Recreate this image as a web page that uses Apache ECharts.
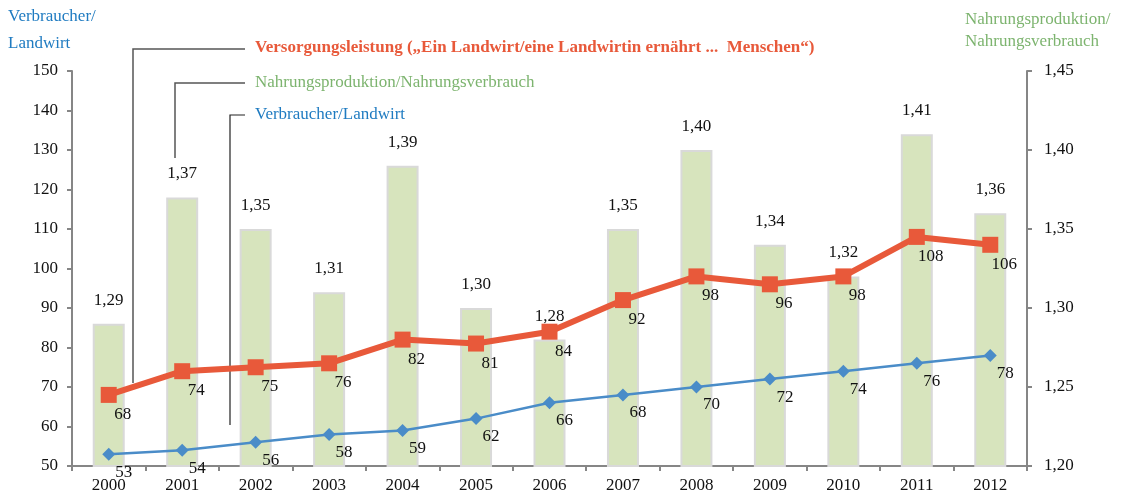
<!DOCTYPE html>
<html>
<head>
<meta charset="utf-8">
<script src="https://cdn.jsdelivr.net/npm/echarts@6/dist/echarts.min.js"></script>
<style>
  html, body { margin: 0; padding: 0; background: #fff; }
  #chart { width: 1122px; height: 494px; }
</style>
</head>
<body>
<div id="chart"></div>
<script>
'use strict';

// data
var years = ['2000','2001','2002','2003','2004','2005','2006','2007','2008','2009','2010','2011','2012'];
var ratio = [1.29, 1.37, 1.35, 1.31, 1.39, 1.30, 1.28, 1.35, 1.40, 1.34, 1.32, 1.41, 1.36];
var versorgung = [68, 74, 75, 76, 82, 81, 84, 92, 98, 96, 98, 108, 106];
var verbraucher = [53, 54, 56, 58, 59, 62, 66, 68, 70, 72, 74, 76, 78];

var FONT = '"Liberation Serif", "DejaVu Serif", serif';
var RED = '#e8593a', BLUE = '#4a8cc8', GREEN = '#7db46f', AXIS = '#868686';

var comma = function (v) { return v.toFixed(2).replace('.', ','); };

var myChart = echarts.init(document.getElementById('chart'));
var option = {
  animation: false,
  textStyle: { fontFamily: FONT },
  grid: { left: 72, right: 95, top: 71, bottom: 28 },
  xAxis: {
    type: 'category',
    data: years,
    axisLine: { lineStyle: { color: AXIS, width: 2 } },
    axisTick: { show: true, length: 5, lineStyle: { color: AXIS, width: 2 } },
    axisLabel: { color: '#111', fontSize: 17, fontFamily: FONT, margin: 11 }
  },
  yAxis: [
    {
      type: 'value', min: 50, max: 150, interval: 10,
      axisLine: { show: true, lineStyle: { color: AXIS, width: 2 } },
      axisTick: { show: true, length: 5, lineStyle: { color: AXIS, width: 2 } },
      axisLabel: { color: '#111', fontSize: 17, fontFamily: FONT, margin: 14 },
      splitLine: { show: false }
    },
    {
      type: 'value', min: 1.20, max: 1.45, interval: 0.05,
      position: 'right',
      axisLine: { show: true, lineStyle: { color: AXIS, width: 2 } },
      axisTick: { show: true, length: 5, lineStyle: { color: AXIS, width: 2 } },
      axisLabel: { color: '#111', fontSize: 17, fontFamily: FONT, margin: 17, formatter: comma },
      splitLine: { show: false }
    }
  ],
  series: [
    {
      name: 'Nahrungsproduktion/Nahrungsverbrauch',
      type: 'bar',
      yAxisIndex: 1,
      data: ratio,
      barWidth: 32,
      itemStyle: { color: '#d7e4bd', borderColor: '#d9d9d9', borderWidth: 2 },
      label: {
        show: true, position: 'top', distance: 15,
        color: '#111', fontSize: 17, fontFamily: FONT,
        formatter: function (p) { return comma(p.value); }
      },
      z: 1
    },
    {
      name: 'Verbraucher/Landwirt',
      type: 'line',
      yAxisIndex: 0,
      data: verbraucher,
      symbol: 'diamond',
      symbolSize: 13,
      lineStyle: { color: BLUE, width: 2.5 },
      itemStyle: { color: BLUE },
      label: {
        show: true, position: 'bottom', distance: 3, offset: [15, 0],
        color: '#111', fontSize: 17, fontFamily: FONT
      },
      z: 3
    },
    {
      name: 'Versorgungsleistung',
      type: 'line',
      yAxisIndex: 0,
      data: versorgung,
      symbol: 'rect',
      symbolSize: 16,
      lineStyle: { color: RED, width: 6 },
      itemStyle: { color: RED },
      label: {
        show: true, position: 'bottom', distance: 3, offset: [14, 0],
        color: '#111', fontSize: 17, fontFamily: FONT
      },
      z: 4
    }
  ],
  graphic: [
    { type: 'text', left: 8, top: 3, style: { text: 'Verbraucher/\nLandwirt', fill: '#1f7bc1', font: '17px ' + FONT, lineHeight: 27 } },
    { type: 'text', left: 965, top: 9, style: { text: 'Nahrungsproduktion/\nNahrungsverbrauch', fill: GREEN, font: '17px ' + FONT, lineHeight: 22 } },

    { type: 'polyline', shape: { points: [[245, 49], [133, 49], [133, 383]] }, style: { stroke: '#555', lineWidth: 1.5, fill: null } },
    { type: 'polyline', shape: { points: [[245, 83], [175, 83], [175, 158]] }, style: { stroke: '#555', lineWidth: 1.5, fill: null } },
    { type: 'polyline', shape: { points: [[245, 115], [230, 115], [230, 425]] }, style: { stroke: '#222', lineWidth: 1.2, fill: null } },

    { type: 'text', left: 255, top: 39, style: { text: 'Versorgungsleistung (\u201EEin Landwirt/eine Landwirtin ern\u00E4hrt ...  Menschen\u201C)', fill: RED, font: 'bold 17px ' + FONT } },
    { type: 'text', left: 255, top: 74, style: { text: 'Nahrungsproduktion/Nahrungsverbrauch', fill: GREEN, font: '17px ' + FONT } },
    { type: 'text', left: 255, top: 106, style: { text: 'Verbraucher/Landwirt', fill: '#1f7bc1', font: '17px ' + FONT } }
  ]
};
myChart.setOption(option);
</script>
</body>
</html>
